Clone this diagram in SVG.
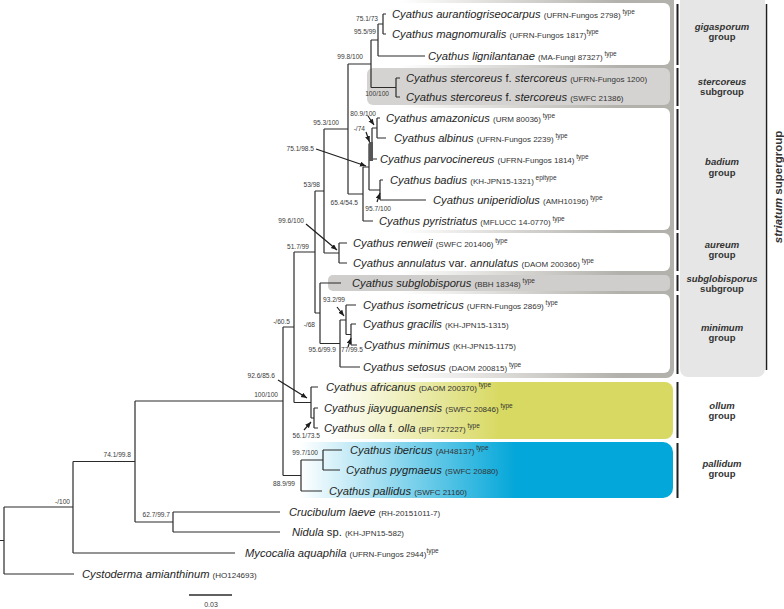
<svg xmlns="http://www.w3.org/2000/svg" width="784" height="609" viewBox="0 0 784 609">
<defs>
<style>
.t{font-family:"Liberation Sans",Arial,sans-serif;font-size:11.2px;font-style:italic;fill:#1e1e1e}
.u{font-style:normal}
.v{font-style:normal;font-size:8px;fill:#333}
.s{font-style:normal;font-size:6.5px;fill:#333}
.bs{font-family:"Liberation Sans",Arial,sans-serif;font-size:6.6px;fill:#3a3a3a;text-anchor:end}
.gl{font-family:"Liberation Sans",Arial,sans-serif;font-size:9.5px;font-weight:bold;fill:#333;text-anchor:middle}
.it{font-style:italic}
.br{fill:none;stroke:#2b2b2b;stroke-width:1.2}
.ar{fill:none;stroke:#1e1e1e;stroke-width:1.2;marker-end:url(#ah)}
.bar{stroke:#1e1e1e;stroke-width:2}
.wb{fill:#ffffff}
</style>
<marker id="ah" markerUnits="userSpaceOnUse" markerWidth="7" markerHeight="6" refX="6" refY="2.5" orient="auto">
<path d="M0,0 L6,2.5 L0,5 z" fill="#1e1e1e"/>
</marker>
<linearGradient id="fg" gradientUnits="userSpaceOnUse" x1="400" y1="0" x2="620" y2="0">
<stop offset="0" stop-color="#b3b1ab" stop-opacity="0"/>
<stop offset="1" stop-color="#b3b1ab"/>
</linearGradient>
<linearGradient id="yg" gradientUnits="userSpaceOnUse" x1="330" y1="0" x2="500" y2="0">
<stop offset="0" stop-color="#d8d962" stop-opacity="0"/>
<stop offset="1" stop-color="#d8d962"/>
</linearGradient>
<linearGradient id="bg" gradientUnits="userSpaceOnUse" x1="300" y1="0" x2="515" y2="0">
<stop offset="0" stop-color="#04a7d9" stop-opacity="0"/>
<stop offset="1" stop-color="#04a7d9"/>
</linearGradient>
</defs>
<rect width="784" height="609" fill="#ffffff"/>

<g id="group-boxes">
<rect x="300" y="-8" width="374" height="386" rx="8" fill="url(#fg)"/>
<rect class="wb" x="300" y="3" width="370" height="62" rx="6"/>
<rect x="367" y="68" width="303" height="37" rx="6" fill="#d5d3d1"/>
<rect class="wb" x="300" y="108" width="370" height="122" rx="6"/>
<rect class="wb" x="300" y="233" width="370" height="38" rx="6"/>
<rect x="328" y="275" width="342" height="16" rx="5" fill="#d0cecc"/>
<rect class="wb" x="300" y="294" width="370" height="79" rx="6"/>
<rect x="300" y="382" width="373" height="57" rx="8" fill="url(#yg)"/>
<rect x="290" y="442" width="383" height="56" rx="10" fill="url(#bg)"/>
<rect x="680" y="-8" width="85" height="385" rx="8" fill="#e6e6e6"/>
</g>

<g id="group-bars">
<line class="bar" x1="677.5" y1="4" x2="677.5" y2="65"/>
<line class="bar" x1="677.5" y1="68" x2="677.5" y2="106"/>
<line class="bar" x1="677.5" y1="109" x2="677.5" y2="230"/>
<line class="bar" x1="677.5" y1="233" x2="677.5" y2="271"/>
<line class="bar" x1="677.5" y1="275" x2="677.5" y2="291"/>
<line class="bar" x1="677.5" y1="295" x2="677.5" y2="374"/>
<line class="bar" x1="677.5" y1="382" x2="677.5" y2="438"/>
<line class="bar" x1="677.5" y1="443" x2="677.5" y2="498"/>
<line x1="766.5" y1="4" x2="766.5" y2="370" stroke="#1e1e1e" stroke-width="1.5"/>
</g>

<g id="group-labels">
<text id="lab-gigasporum" class="gl"><tspan class="it" x="722" y="30">gigasporum</tspan><tspan x="722" y="40">group</tspan></text>
<text id="lab-stercoreus" class="gl"><tspan class="it" x="722" y="85">stercoreus</tspan><tspan x="722" y="95">subgroup</tspan></text>
<text id="lab-badium" class="gl"><tspan class="it" x="722" y="165">badium</tspan><tspan x="722" y="176">group</tspan></text>
<text id="lab-aureum" class="gl"><tspan class="it" x="722" y="248">aureum</tspan><tspan x="722" y="258">group</tspan></text>
<text id="lab-subglobisporus" class="gl"><tspan class="it" x="722" y="282">subglobisporus</tspan><tspan x="722" y="292">subgroup</tspan></text>
<text id="lab-minimum" class="gl"><tspan class="it" x="722" y="331">minimum</tspan><tspan x="722" y="341">group</tspan></text>
<text id="lab-ollum" class="gl"><tspan class="it" x="722" y="409">ollum</tspan><tspan x="722" y="419">group</tspan></text>
<text id="lab-pallidum" class="gl"><tspan class="it" x="722" y="467">pallidum</tspan><tspan x="722" y="477">group</tspan></text>
<text id="lab-striatum" class="gl" style="font-size:11.5px" transform="translate(782,187) rotate(-90)"><tspan class="it">striatum</tspan> supergroup</text>
</g>

<g id="connectors">
<path class="br" d="M0 540.5H4 M4 507V574 M4 507H73 M4 574H74
M73 461.5V553 M73 461.5H135 M73 553H235
M135 401V522 M135 401H283 M135 522H173
M173 512V532 M173 512H280 M173 532H280
M283 327V475.5 M283 327H294 M283 475.5H301
M301 460V491 M301 460H323 M301 491H322
M323 450V470 M323 450H342 M323 470H340
M294 252V402.5 M294 252H315 M294 402.5H311
M311 387V418 M311 387H318 M311 418H314
M314 408V428 M314 408H318 M314 428H318
M315 191V313 M315 191H324 M315 313H320
M320 283V343.5 M320 283H341 M320 343.5H340
M340 320V367 M340 320H346 M340 367H360
M346 305V334.5 M346 305H356 M346 334.5H351
M351 324V345 M351 324H356 M351 345H357
M324 129V253 M324 129H348 M324 253H339
M339 243V263 M339 243H347 M339 263H347
M348 64V194 M348 64H371 M348 194H363
M363 167V221 M363 167H369 M363 221H373
M369 143.5V190 M369 143.5H372 M369 190H380
M380 180V200 M380 180H383 M380 200H426
M372 128V159 M372 128H377 M372 159H377
M377 118V138 M377 118H380 M377 138H386
M371 40V87.5 M371 40H378 M371 87.5H396
M396 78V97 M396 78H400 M396 97H400
M378 24V56 M378 24H383 M378 56H425
M383 14V34 M383 14H386 M383 34H386"/>
<rect x="369" y="142" width="4" height="19" fill="#555"/>
<path class="ar" d="M316 149L366 166"/>
<path class="ar" d="M306 224L337 250"/>
<path class="ar" d="M368 116L374 125"/>
<path class="ar" d="M366 132L369.5 142"/>
<path class="ar" d="M377 202L380 193"/>
<path class="ar" d="M337 307L344 316"/>
<path class="ar" d="M348 347L351 338"/>
<path class="ar" d="M278 380L307 398"/>
<path class="ar" d="M304 430L311 422"/>
<line x1="189" y1="595" x2="232" y2="595" stroke="#2b2b2b" stroke-width="1.5"/>
</g>

<g id="support-values">
<text class="bs" x="378" y="21">75.1/73</text>
<text class="bs" x="376" y="34">95.5/99</text>
<text class="bs" x="363" y="59">99.8/100</text>
<text class="bs" x="389" y="96">100/100</text>
<text class="bs" x="376" y="116">80.9/100</text>
<text class="bs" x="365" y="131">-/74</text>
<text class="bs" x="339" y="125">95.3/100</text>
<text class="bs" x="314" y="151">75.1/98.5</text>
<text class="bs" x="320" y="187">53/98</text>
<text class="bs" x="358" y="205">65.4/54.5</text>
<text class="bs" x="391" y="211">95.7/100</text>
<text class="bs" x="304" y="223">99.6/100</text>
<text class="bs" x="309" y="249">51.7/99</text>
<text class="bs" x="345" y="302">93.2/99</text>
<text class="bs" x="290" y="324">-/60.5</text>
<text class="bs" x="315" y="327">-/68</text>
<text class="bs" x="336" y="352">95.6/99.9</text>
<text class="bs" x="363" y="352">77/99.5</text>
<text class="bs" x="275" y="378">92.6/85.6</text>
<text class="bs" x="278" y="397">100/100</text>
<text class="bs" x="320" y="438">56.1/73.5</text>
<text class="bs" x="318" y="455">99.7/100</text>
<text class="bs" x="295" y="486">88.9/99</text>
<text class="bs" x="131" y="457">74.1/99.8</text>
<text class="bs" x="70" y="504">-/100</text>
<text class="bs" x="170" y="517">62.7/99.7</text>
<text class="bs" x="211" y="607" style="text-anchor:middle;font-size:7px">0.03</text>
</g>

<g id="taxa">
<g id="t01"><text class="t" x="392" y="18">Cyathus aurantiogriseocarpus <tspan class="v">(UFRN-Fungos 2798)</tspan><tspan class="s" dy="-4"> type</tspan></text></g>
<g id="t02"><text class="t" x="392" y="38">Cyathus magnomuralis <tspan class="v">(UFRN-Fungos 1817)</tspan><tspan class="s" dy="-4">type</tspan></text></g>
<g id="t03"><text class="t" x="428" y="60">Cyathus lignilantanae <tspan class="v">(MA-Fungi 87327)</tspan><tspan class="s" dy="-4"> type</tspan></text></g>
<g id="t04"><text class="t" x="406" y="82">Cyathus stercoreus <tspan class="u">f.</tspan> stercoreus <tspan class="v">(UFRN-Fungos 1200)</tspan></text></g>
<g id="t05"><text class="t" x="406" y="101">Cyathus stercoreus <tspan class="u">f.</tspan> stercoreus <tspan class="v">(SWFC 21386)</tspan></text></g>
<g id="t06"><text class="t" x="386" y="122">Cyathus amazonicus <tspan class="v">(URM 80036)</tspan><tspan class="s" dy="-4"> type</tspan></text></g>
<g id="t07"><text class="t" x="394" y="142">Cyathus albinus <tspan class="v">(UFRN-Fungos 2239)</tspan><tspan class="s" dy="-4"> type</tspan></text></g>
<g id="t08"><text class="t" x="380" y="163">Cyathus parvocinereus <tspan class="v">(UFRN-Fungos 1814)</tspan><tspan class="s" dy="-4"> type</tspan></text></g>
<g id="t09"><text class="t" x="390" y="184">Cyathus badius <tspan class="v">(KH-JPN15-1321)</tspan><tspan class="s" dy="-4"> epitype</tspan></text></g>
<g id="t10"><text class="t" x="433" y="204">Cyathus uniperidiolus <tspan class="v">(AMH10196)</tspan><tspan class="s" dy="-4"> type</tspan></text></g>
<g id="t11"><text class="t" x="379" y="225">Cyathus pyristriatus <tspan class="v">(MFLUCC 14-0770)</tspan><tspan class="s" dy="-4"> type</tspan></text></g>
<g id="t12"><text class="t" x="353" y="247">Cyathus renweii <tspan class="v">(SWFC 201406)</tspan><tspan class="s" dy="-4"> type</tspan></text></g>
<g id="t13"><text class="t" x="353" y="267">Cyathus annulatus <tspan class="u">var.</tspan> annulatus <tspan class="v">(DAOM 200366)</tspan><tspan class="s" dy="-4"> type</tspan></text></g>
<g id="t14"><text class="t" x="352" y="287">Cyathus subglobisporus <tspan class="v">(BBH 18348)</tspan><tspan class="s" dy="-4"> type</tspan></text></g>
<g id="t15"><text class="t" x="363" y="309">Cyathus isometricus <tspan class="v">(UFRN-Fungos 2869)</tspan><tspan class="s" dy="-4"> type</tspan></text></g>
<g id="t16"><text class="t" x="363" y="328">Cyathus gracilis <tspan class="v">(KH-JPN15-1315)</tspan></text></g>
<g id="t17"><text class="t" x="364" y="349">Cyathus minimus <tspan class="v">(KH-JPN15-1175)</tspan></text></g>
<g id="t18"><text class="t" x="363" y="371">Cyathus setosus <tspan class="v">(DAOM 200815)</tspan><tspan class="s" dy="-4"> type</tspan></text></g>
<g id="t19"><text class="t" x="326" y="391">Cyathus africanus <tspan class="v">(DAOM 200370)</tspan><tspan class="s" dy="-4"> type</tspan></text></g>
<g id="t20"><text class="t" x="324" y="412">Cyathus jiayuguanensis <tspan class="v">(SWFC 20846)</tspan><tspan class="s" dy="-4"> type</tspan></text></g>
<g id="t21"><text class="t" x="324" y="432">Cyathus olla <tspan class="u">f.</tspan> olla <tspan class="v">(BPI 727227)</tspan><tspan class="s" dy="-4"> type</tspan></text></g>
<g id="t22"><text class="t" x="350" y="454">Cyathus ibericus <tspan class="v">(AH48137)</tspan><tspan class="s" dy="-4"> type</tspan></text></g>
<g id="t23"><text class="t" x="346" y="474">Cyathus pygmaeus <tspan class="v">(SWFC 20880)</tspan></text></g>
<g id="t24"><text class="t" x="329" y="495">Cyathus pallidus <tspan class="v">(SWFC 21160)</tspan></text></g>
<g id="t25"><text class="t" x="289" y="516">Crucibulum laeve <tspan class="v">(RH-20151011-7)</tspan></text></g>
<g id="t26"><text class="t" x="292" y="536">Nidula <tspan class="u">sp.</tspan> <tspan class="v">(KH-JPN15-582)</tspan></text></g>
<g id="t27"><text class="t" x="245" y="557">Mycocalia aquaphila <tspan class="v">(UFRN-Fungos 2944)</tspan><tspan class="s" dy="-4">type</tspan></text></g>
<g id="t28"><text class="t" x="82" y="578">Cystoderma amianthinum <tspan class="v">(HO124693)</tspan></text></g>
</g>
</svg>
